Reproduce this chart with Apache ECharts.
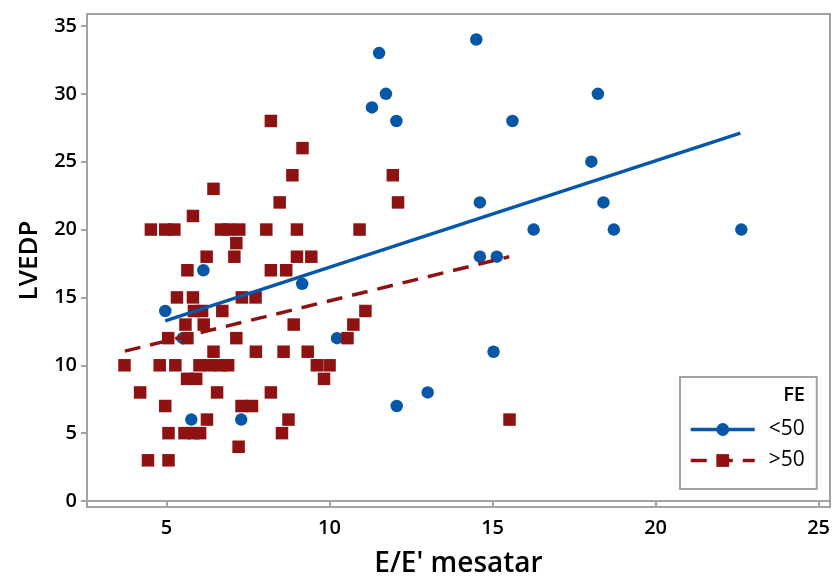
<!DOCTYPE html>
<html>
<head>
<meta charset="utf-8">
<script src="https://cdn.jsdelivr.net/npm/echarts@6/dist/echarts.min.js"></script>
<style>
  html, body { margin: 0; padding: 0; background: #fff; }
  #chart { width: 832px; height: 578px; }
</style>
</head>
<body>
<div id="chart"></div>
<script>
// FE < 50 (blue circles)
const lowX = [4.96, 5.50, 5.76, 6.13, 7.29, 9.16, 10.23, 11.30, 11.52, 11.73, 12.05, 12.06, 13.01,
  14.50, 14.61, 14.61, 15.03, 15.13, 15.61, 16.26, 18.03, 18.23, 18.40, 18.72, 22.63]
const lowY = [14, 12, 6, 17, 6, 16, 12, 29, 33, 30, 28, 7, 8,
  34, 22, 18, 11, 18, 28, 20, 25, 30, 22, 20, 20]

// FE > 50 (red squares)
const highX = [8.20, 9.17, 8.86, 11.94, 6.44, 8.47, 12.10, 5.81,
  4.52, 4.96, 5.24, 6.67, 6.90, 7.23, 8.06, 9.00, 10.92,
  7.14, 6.23, 7.08, 9.00, 9.44, 5.64, 8.20, 8.67,
  5.32, 5.81, 7.31, 7.73, 5.84, 6.09, 6.71, 11.10,
  5.58, 6.14, 8.90, 10.73, 5.05, 5.64, 7.14, 10.55,
  6.44, 7.74, 8.59, 9.33,
  3.71, 4.79, 5.27, 6.01, 6.34, 6.65, 6.89, 9.61, 10.00,
  5.63, 5.91, 9.83, 4.19, 6.55, 8.20, 4.96, 7.30, 7.62,
  6.24, 8.74, 15.52, 5.06, 5.55, 5.83, 6.03, 8.54, 7.21, 4.43, 5.06]
const highY = [28, 26, 24, 24, 23, 22, 22, 21,
  20, 20, 20, 20, 20, 20, 20, 20, 20,
  19, 18, 18, 18, 18, 17, 17, 17,
  15, 15, 15, 15, 14, 14, 14, 14,
  13, 13, 13, 13, 12, 12, 12, 12,
  11, 11, 11, 11,
  10, 10, 10, 10, 10, 10, 10, 10, 10,
  9, 9, 9, 8, 8, 8, 7, 7, 7,
  6, 6, 6, 5, 5, 5, 5, 5, 4, 3, 3]

// fitted lines, end points
const fitLow = [[4.96, 13.27], [22.60, 27.10]]
const fitHigh = [[3.72, 11.04], [15.51, 18.00]]

const xTicks = [5, 10, 15, 20, 25]
const yTicks = [0, 5, 10, 15, 20, 25, 30, 35]
const groups = ['<50', '>50']

const blue = '#0657a8'
const red = '#8e1212'
const font = '"Open Sans", "Noto Sans", sans-serif'

let myChart = echarts.init(document.getElementById('chart'))

const pair = (xs, ys) => xs.map((x, i) => [x, ys[i]])

myChart.setOption({
  backgroundColor: '#fff',
  animation: false,
  grid: {
    left: 87, right: 2, top: 14, bottom: 71,
    show: true,
    borderColor: '#a3a3a3',
    borderWidth: 2,
    outerBoundsMode: 'none'
  },
  xAxis: {
    type: 'value',
    min: 2.56,
    max: 25.35,
    name: "E/E' mesatar",
    nameLocation: 'middle',
    nameGap: 43,
    nameTextStyle: {color: '#000', fontSize: 28, fontFamily: font, fontWeight: 600},
    splitLine: {show: false},
    axisLine: {lineStyle: {color: '#a3a3a3', width: 2}},
    axisTick: {customValues: xTicks, length: 7, lineStyle: {color: '#a3a3a3', width: 2}},
    axisLabel: {customValues: xTicks, margin: 11, color: '#000', fontSize: 20, fontFamily: font, fontWeight: 600}
  },
  yAxis: {
    type: 'value',
    min: -0.44,
    max: 35.88,
    name: 'LVEDP',
    nameLocation: 'middle',
    nameGap: 44,
    nameTextStyle: {color: '#000', fontSize: 26, fontFamily: font, fontWeight: 600},
    splitLine: {show: false},
    axisLine: {show: true, lineStyle: {color: '#a3a3a3', width: 2}},
    axisTick: {show: true, customValues: yTicks, length: 6, lineStyle: {color: '#a3a3a3', width: 2}},
    axisLabel: {customValues: yTicks, margin: 10, color: '#000', fontSize: 20, fontFamily: font, fontWeight: 600}
  },
  legend: {
    data: groups,
    orient: 'vertical',
    left: 680,
    top: 377,
    padding: [42, 12, 18, 9],
    itemWidth: 64,
    itemHeight: 16,
    itemGap: 10,
    borderColor: '#a3a3a3',
    borderWidth: 2,
    lineStyle: {width: 3.5},
    textStyle: {color: '#000', fontSize: 21, fontFamily: font, padding: [0, 0, 0, 9]}
  },
  graphic: [{
    type: 'text',
    right: 832 - 805,
    top: 385,
    style: {text: 'FE', fill: '#000', fontSize: 20, fontFamily: font, fontWeight: 600}
  }],
  series: [
    {
      name: groups[0],
      type: 'line',
      data: fitLow,
      symbol: 'circle',
      symbolSize: 12,
      showSymbol: false,
      color: blue,
      lineStyle: {color: blue, width: 3.5},
      z: 3
    },
    {
      name: groups[1],
      type: 'line',
      data: fitHigh,
      symbol: 'rect',
      symbolSize: 12,
      showSymbol: false,
      color: red,
      lineStyle: {color: red, width: 3.5, type: [16, 10]},
      z: 3
    },
    {
      name: groups[0],
      type: 'scatter',
      data: pair(lowX, lowY),
      symbol: 'circle',
      symbolSize: 12.5,
      itemStyle: {color: blue, opacity: 1},
      z: 2
    },
    {
      name: groups[1],
      type: 'scatter',
      data: pair(highX, highY),
      symbol: 'rect',
      symbolSize: 12.5,
      itemStyle: {color: red, opacity: 1},
      z: 2
    }
  ]
})
</script>
</body>
</html>
